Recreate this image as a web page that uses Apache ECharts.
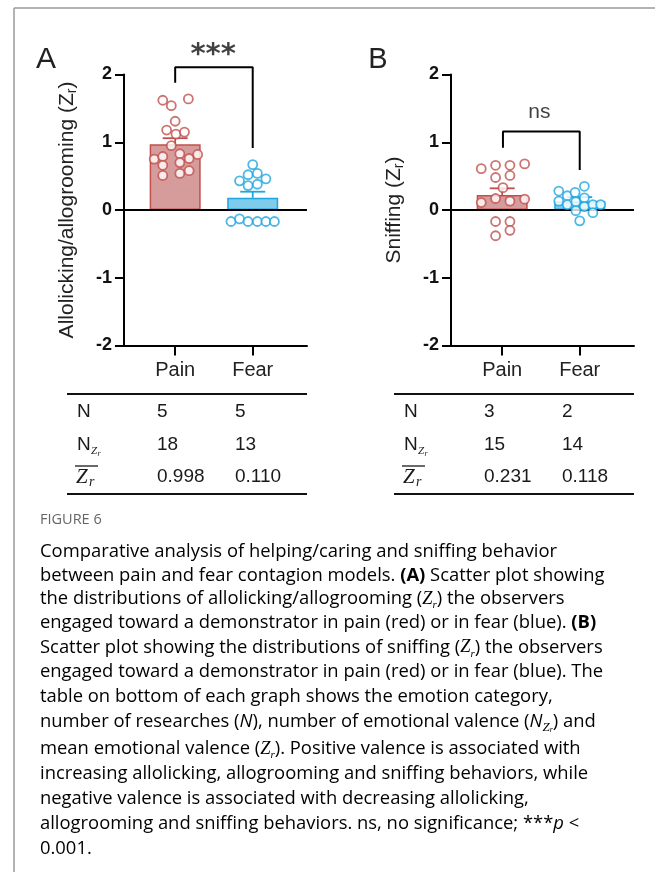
<!DOCTYPE html>
<html><head><meta charset="utf-8">
<script src="https://cdn.jsdelivr.net/npm/echarts@6/dist/echarts.min.js"></script>
<style>html,body{margin:0;padding:0;background:#fff}#c{width:655px;height:872px}</style>
</head><body><div id="c"></div>
<script>
// ---------- data ----------
const categories = ['Pain', 'Fear'];
const yTicks = [-2, -1, 0, 1, 2];

// Panel A: allolicking / allogrooming
const barA = [0.97, 0.18];
const semTopA = [1.06, 0.27];
const painDotsA = [[-0.16,1.62],[-0.05,1.54],[0.17,1.64],[0.0,1.31],[-0.11,1.18],[0.01,1.12],[0.12,1.15],[-0.05,0.95],[-0.27,0.75],[-0.16,0.79],[-0.16,0.66],[0.06,0.83],[0.06,0.70],[0.18,0.76],[0.29,0.82],[-0.16,0.51],[0.06,0.54],[0.18,0.58]];
const fearDotsA = [[1.0,0.67],[0.94,0.52],[1.06,0.54],[0.83,0.43],[1.17,0.46],[0.94,0.36],[1.06,0.38],[0.72,-0.17],[0.83,-0.13],[0.94,-0.17],[1.06,-0.17],[1.17,-0.17],[1.28,-0.17]];
const bracketA = [[0,1.88],[0,2.106],[1,2.106],[1,0.915]];
const sigA = '***';
const sigPosA = [0.49, 2.28];

// Panel B: sniffing
const barB = [0.22, 0.13];
const semTopB = [0.32, 0.19];
const painDotsB = [[-0.27,0.61],[-0.085,0.66],[0.10,0.66],[0.29,0.68],[-0.085,0.48],[0.10,0.51],[0.01,0.33],[-0.27,0.11],[-0.085,0.17],[0.10,0.13],[0.29,0.16],[-0.085,-0.17],[0.10,-0.17],[-0.085,-0.38],[0.10,-0.30]];
const fearDotsB = [[0.73,0.28],[0.84,0.21],[0.94,0.26],[1.06,0.35],[0.73,0.13],[0.84,0.08],[0.95,0.12],[1.06,0.18],[1.06,0.05],[1.17,0.08],[1.27,0.08],[0.95,-0.01],[1.17,-0.04],[1.0,-0.16]];
const bracketB = [[0.01,0.92],[0.01,1.16],[1,1.16],[1,0.59]];
const sigB = 'ns';
const sigPosB = [0.48, 1.44];

// tables
const nA = ['5','5'], nzA = ['18','13'], meanA = ['0.998','0.110'];
const nB = ['3','2'], nzB = ['15','14'], meanB = ['0.231','0.118'];

const panelLetters = ['A', 'B'];
const yNames = ['Allolicking/allogrooming (', 'Sniffing ('];

// ---------- styles ----------
const RED = '#c0504d', BLUE = '#1fa6df';
const RED_FILL = '#d69c9c', BLUE_FILL = '#7ecbec';
const strokes = [RED, BLUE], fills = [RED_FILL, BLUE_FILL];
const AX = 'Liberation Sans, Arial, sans-serif';
const CAP = 'Open Sans, sans-serif';

const chart = echarts.init(document.getElementById('c'), null, {renderer: 'canvas'});

function xAxisFor(gi) {
  return {
    type: 'value', gridIndex: gi, min: -0.66, max: 1.70,
    splitLine: {show: false},
    axisLine: {onZero: false, lineStyle: {color: '#000', width: 2}},
    axisTick: {customValues: [0, 1], length: 10, lineStyle: {color: '#000', width: 2}},
    axisLabel: {customValues: [0, 1], margin: 15, fontFamily: AX, fontSize: 20, color: '#222',
      formatter: v => categories[Math.round(v)]}
  };
}
function yAxisFor(gi) {
  return {
    type: 'value', gridIndex: gi, min: yTicks[0], max: yTicks[yTicks.length-1], interval: 1,
    splitLine: {show: false},
    axisLine: {onZero: false, lineStyle: {color: '#000', width: 2}},
    axisTick: {length: 9, lineStyle: {color: '#000', width: 2}},
    axisLabel: {margin: 12, fontFamily: AX, fontSize: 18, fontWeight: 'bold', color: '#111'},
    name: '{n|' + yNames[gi] + '}{z|Z}{s|r}{n|)}',
    nameLocation: 'middle', nameGap: 45,
    nameTextStyle: {
      rich: {
        n: {fontFamily: AX, fontSize: 21, color: '#222', lineHeight: 24},
        z: {fontFamily: AX, fontSize: 21, color: '#222', lineHeight: 24},
        s: {fontFamily: AX, fontSize: 14, color: '#222', lineHeight: 10, verticalAlign: 'bottom'}
      }
    }
  };
}

function panelSeries(gi, bars, semTop, painDots, fearDots, bracket, sig, sigPos) {
  return [
    {
      type: 'bar', xAxisIndex: gi, yAxisIndex: gi, barWidth: 51, z: 2,
      data: bars.map((v, i) => ({value: [i, v], itemStyle: {color: fills[i], borderColor: strokes[i], borderWidth: 1.5}})),
      markLine: {silent: true, symbol: 'none', label: {show: false}, animation: false,
        lineStyle: {color: '#000', width: 2, type: 'solid'}, data: [{yAxis: 0}]}
    },
    {
      type: 'custom', xAxisIndex: gi, yAxisIndex: gi, z: 3,
      data: bars.map((v, i) => [i, v, semTop[i]]),
      renderItem: (params, api) => {
        const i = api.value(0);
        const p0 = api.coord([i, api.value(1)]);
        const p1 = api.coord([i, api.value(2)]);
        const st = {stroke: strokes[params.dataIndex], lineWidth: 1.8};
        return {type: 'group', children: [
          {type: 'line', shape: {x1: p0[0], y1: p0[1], x2: p1[0], y2: p1[1]}, style: st},
          {type: 'line', shape: {x1: p1[0]-12.5, y1: p1[1], x2: p1[0]+12.5, y2: p1[1]}, style: st}
        ]};
      }
    },
    {
      type: 'scatter', xAxisIndex: gi, yAxisIndex: gi, z: 5, symbol: 'circle', symbolSize: 9,
      itemStyle: {color: '#fff', borderColor: RED, borderWidth: 1.8}, data: painDots
    },
    {
      type: 'scatter', xAxisIndex: gi, yAxisIndex: gi, z: 5, symbol: 'circle', symbolSize: 9,
      itemStyle: {color: '#fff', borderColor: BLUE, borderWidth: 1.8}, data: fearDots
    },
    {
      type: 'line', xAxisIndex: gi, yAxisIndex: gi, z: 5, clip: false, showSymbol: false,
      lineStyle: {color: '#000', width: 2}, data: bracket
    },
    {
      type: 'scatter', xAxisIndex: gi, yAxisIndex: gi, z: 5, clip: false, symbolSize: 1,
      itemStyle: {color: 'rgba(0,0,0,0)'}, data: [sigPos],
      label: {show: true, position: 'inside', formatter: () => sig,
        fontFamily: sig === '***' ? 'DejaVu Sans, sans-serif' : AX,
        fontWeight: sig === '***' ? 'bold' : 'normal',
        fontSize: sig === '***' ? 29 : 21, color: '#111'}
    }
  ];
}

// ---------- table & caption graphics ----------
const graphics = [];
graphics.push({type: 'line', shape: {x1: 14, y1: 8, x2: 655, y2: 8}, style: {stroke: '#9a9a9a', lineWidth: 1.5}, silent: true});
graphics.push({type: 'line', shape: {x1: 14, y1: 8, x2: 14, y2: 872}, style: {stroke: '#9a9a9a', lineWidth: 1.5}, silent: true});
graphics.push({type: 'text', x: 46, y: 60, style: {text: panelLetters[0], font: '30px Liberation Sans, Arial', fill: '#222', align: 'center', verticalAlign: 'middle'}});
graphics.push({type: 'text', x: 378, y: 60, style: {text: panelLetters[1], font: '29px Liberation Sans, Arial', fill: '#222', align: 'center', verticalAlign: 'middle'}});

function addTable(dx, n, nz, mean) {
  const T = '19px Liberation Sans, Arial';
  const col = '#1a1a1a';
  graphics.push({type: 'line', shape: {x1: 67+dx, y1: 394, x2: 307+dx, y2: 394}, style: {stroke: '#111', lineWidth: 2}});
  graphics.push({type: 'line', shape: {x1: 67+dx, y1: 494, x2: 307+dx, y2: 494}, style: {stroke: '#111', lineWidth: 2}});
  const rowsY = [411.5, 445, 477];
  graphics.push({type: 'text', x: 77+dx, y: rowsY[0], style: {text: 'N', font: T, fill: col, verticalAlign: 'middle'}});
  graphics.push({type: 'text', x: 77+dx, y: rowsY[1], style: {text: 'N', font: T, fill: col, verticalAlign: 'middle'}});
  graphics.push({type: 'text', x: 91+dx, y: rowsY[1]+6, style: {text: 'Z', font: 'italic 11px Liberation Serif, serif', fill: col, verticalAlign: 'middle'}});
  graphics.push({type: 'text', x: 97.5+dx, y: rowsY[1]+9, style: {text: 'r', font: 'italic 8px Liberation Serif, serif', fill: col, verticalAlign: 'middle'}});
  graphics.push({type: 'text', x: 76+dx, y: rowsY[2], style: {text: 'Z', font: 'italic 21px Liberation Serif, serif', fill: col, verticalAlign: 'middle'}});
  graphics.push({type: 'text', x: 89+dx, y: rowsY[2]+5, style: {text: 'r', font: 'italic 14px Liberation Serif, serif', fill: col, verticalAlign: 'middle'}});
  graphics.push({type: 'line', shape: {x1: 75+dx, y1: 466, x2: 98+dx, y2: 466}, style: {stroke: col, lineWidth: 1.3}});
  [n, nz, mean].forEach((row, r) => {
    row.forEach((v, c) => {
      graphics.push({type: 'text', x: (c === 0 ? 157 : 235) + dx, y: rowsY[r], style: {text: v, font: T, fill: col, verticalAlign: 'middle'}});
    });
  });
}
addTable(0, nA, nzA, meanA);
addTable(327, nB, nzB, meanB);

graphics.push({type: 'text', x: 40, y: 520, style: {text: 'FIGURE 6', font: '14.5px Open Sans, sans-serif', fill: '#666', verticalAlign: 'middle'}});

const captionLines = [
  [['n','Comparative analysis of helping/caring and sniffing behavior']],
  [['n','between pain and fear contagion models. '],['b','(A)'],['n',' Scatter plot showing']],
  [['n','the distributions of allolicking/allogrooming ('],['z','Z'],['s','r'],['n',') the observers']],
  [['n','engaged toward a demonstrator in pain (red) or in fear (blue). '],['b','(B)']],
  [['n','Scatter plot showing the distributions of sniffing ('],['z','Z'],['s','r'],['n',') the observers']],
  [['n','engaged toward a demonstrator in pain (red) or in fear (blue). The']],
  [['n','table on bottom of each graph shows the emotion category,']],
  [['n','number of researches ('],['i','N'],['n','), number of emotional valence ('],['i','N'],['zs','Z'],['ss','r'],['n',') and']],
  [['n','mean emotional valence ('],['z','Z'],['s','r'],['n','). Positive valence is associated with']],
  [['n','increasing allolicking, allogrooming and sniffing behaviors, while']],
  [['n','negative valence is associated with decreasing allolicking,']],
  [['n','allogrooming and sniffing behaviors. ns, no significance; ***'],['i','p'],['n',' <']],
  [['n','0.001.']]
];
const captionY = [552, 575.5, 599, 622.5, 647.5, 672, 697, 722, 749, 774, 799, 824, 849];
const capCol = '#606060';
const FS = 18.4;
const capRich = {
  n: {fontFamily: CAP, fontSize: FS, color: capCol, lineHeight: 24},
  b: {fontFamily: CAP, fontSize: FS, fontWeight: 'bold', color: '#4a4a4a', lineHeight: 24},
  i: {fontFamily: CAP, fontSize: FS, fontStyle: 'italic', color: capCol, lineHeight: 24},
  z: {fontFamily: 'Liberation Serif, serif', fontStyle: 'italic', fontSize: FS, color: capCol, lineHeight: 24},
  s: {fontFamily: 'Liberation Serif, serif', fontStyle: 'italic', fontSize: 11, color: capCol, lineHeight: 10, verticalAlign: 'bottom'},
  zs: {fontFamily: 'Liberation Serif, serif', fontStyle: 'italic', fontSize: 13, color: capCol, lineHeight: 12, verticalAlign: 'bottom'},
  ss: {fontFamily: 'Liberation Serif, serif', fontStyle: 'italic', fontSize: 8, color: capCol, lineHeight: 6, verticalAlign: 'bottom'}
};
captionLines.forEach((segs, k) => {
  graphics.push({type: 'text', x: 40, y: captionY[k], style: {
    text: segs.map(s => '{' + s[0] + '|' + s[1] + '}').join(''),
    rich: capRich, verticalAlign: 'middle'}});
});

chart.setOption({
  animation: false,
  grid: [
    {left: 124, top: 74.5, width: 183, height: 271},
    {left: 451, top: 74.5, width: 183, height: 271}
  ],
  xAxis: [xAxisFor(0), xAxisFor(1)],
  yAxis: [yAxisFor(0), yAxisFor(1)],
  series: [
    ...panelSeries(0, barA, semTopA, painDotsA, fearDotsA, bracketA, sigA, sigPosA),
    ...panelSeries(1, barB, semTopB, painDotsB, fearDotsB, bracketB, sigB, sigPosB)
  ],
  graphic: graphics
});
</script></body></html>
